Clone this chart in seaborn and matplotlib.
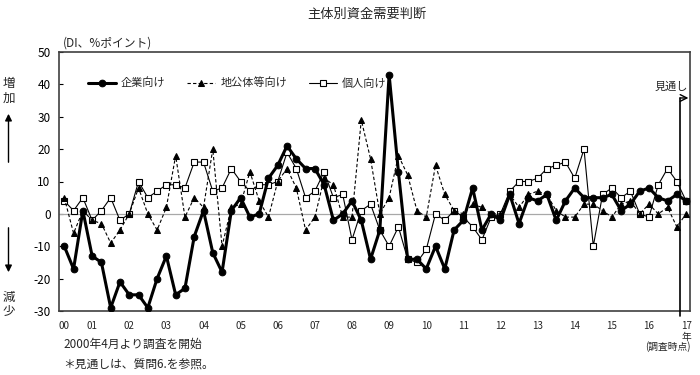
import matplotlib
matplotlib.use("Agg")
import matplotlib.pyplot as plt
import seaborn as sns
import pandas as pd

# ---- data (quarterly survey, 2000 Apr .. latest + outlook) ----
corp = [-10, -17, 1, -13, -15, -29, -21, -25, -25, -29,
        -20, -13, -25, -23, -7, 1, -12, -18, 1, 5,
        -1, 0, 11, 15, 21, 17, 14, 14, 9, -2,
        0, 4, -2, -14, -5, 43, 13, -14, -14, -17,
        -10, -17, -5, -2, 8, -5, 0, -2, 6, -3,
        5, 4, 6, -2, 4, 8, 5, 5, 5, 6,
        1, 3, 7, 8, 5, 4, 6, 4]
localgov = [5, -6, 1, -2, -3, -9, -5, 0, 8, 0,
            -5, 2, 18, -1, 5, 2, 20, -10, 2, 3,
            13, 4, -1, 10, 14, 8, -5, -1, 11, 9,
            -1, -1, 29, 17, 0, 5, 18, 12, 1, -1,
            15, 6, 1, 0, 3, 2, 0, 0, 6, 2,
            6, 7, 6, 1, -1, -1, 3, 3, 1, -1,
            3, 4, 0, 3, 0, 2, -4, 0]
personal = [4, 1, 5, -2, 1, 5, -2, 0, 10, 5,
            7, 9, 9, 8, 16, 16, 7, 8, 14, 10,
            7, 9, 9, 10, 19, 14, 5, 7, 13, 5,
            6, -8, 1, 3, -5, -10, -4, -14, -15, -11,
            0, -2, 1, -1, -4, -8, -1, 0, 7, 10,
            10, 11, 14, 15, 16, 11, 20, -10, 6, 8,
            5, 7, 0, -1, 9, 14, 10, 4]
series_names = ["企業向け", "地公体等向け", "個人向け"]
year_labels = ["00", "01", "02", "03", "04", "05", "06", "07", "08",
               "09", "10", "11", "12", "13", "14", "15", "16", "17"]
year_tick_idx = [0] + [3 + 4 * k for k in range(17)]
y_ticks = [-30, -20, -10, 0, 10, 20, 30, 40, 50]

sns.set_theme(style="white")
plt.rcParams["font.family"] = ["Noto Sans CJK JP", "DejaVu Sans"]
plt.rcParams["axes.unicode_minus"] = False

idx = list(range(len(corp)))
df = pd.DataFrame({"idx": idx, "corp": corp, "local": localgov, "pers": personal})

fig = plt.figure(figsize=(7, 3.75), dpi=100)
ax = fig.add_axes([59 / 700, 1 - 311 / 375, 631 / 700, 259 / 375])

ax.axhline(0, color="#a8a8a8", lw=0.9, zorder=1)

sns.lineplot(data=df, x="idx", y="pers", ax=ax, color="black", lw=0.8,
             marker="s", markersize=5, markerfacecolor="white",
             markeredgecolor="black", markeredgewidth=0.8,
             label=series_names[2], zorder=3)
sns.lineplot(data=df, x="idx", y="local", ax=ax, color="black", lw=0.8,
             marker="^", markersize=4.5, markerfacecolor="black",
             markeredgecolor="black", label=series_names[1], zorder=4)
sns.lineplot(data=df, x="idx", y="corp", ax=ax, color="black", lw=2.2,
             marker="o", markersize=4.8, markerfacecolor="black",
             markeredgecolor="black", label=series_names[0], zorder=5)

lines = ax.get_lines()
line_pers, line_local, line_corp = lines[1], lines[2], lines[3]
line_local.set_dashes((3, 2))

ax.set_xlim(-0.57, 67.42)
ax.set_ylim(-30, 50)
ax.set_xlabel("")
ax.set_ylabel("")
ax.set_yticks(y_ticks)
ax.set_yticklabels([str(v) for v in y_ticks])
ax.set_xticks(year_tick_idx)
ax.set_xticklabels(year_labels)
ax.tick_params(axis="y", direction="in", length=3, width=0.8, pad=6,
               labelsize=8.5, colors="black", left=True)
ax.tick_params(axis="x", length=0, pad=7, labelsize=7)
for s in ax.spines.values():
    s.set_color("#404040")
    s.set_linewidth(1.2)

leg = ax.legend(handles=[line_corp, line_local, line_pers],
                labels=series_names, loc="center left",
                bbox_to_anchor=(0.03, 0.88), ncol=3, frameon=False,
                handlelength=2.5, handletextpad=0.45, columnspacing=2.0,
                fontsize=8)

# outlook marker
vx = 66.35
ax.plot([vx, vx], [35.8, -31.5], color="black", lw=1.2, clip_on=False, zorder=6)
ax.annotate("", xy=(67.25, 35.8), xytext=(vx, 35.8),
            arrowprops=dict(arrowstyle="->", color="black", lw=1.0,
                            shrinkA=0, shrinkB=0))
fig.text(688 / 700, 1 - 87 / 375, "見通し", ha="right", va="center", fontsize=8)

# texts
fig.text(367 / 700, 1 - 14 / 375, "主体別資金需要判断", ha="center", va="center",
         fontsize=9.5)
fig.text(63 / 700, 1 - 43 / 375, "(DI、%ポイント)", ha="left", va="center",
         fontsize=8.5)
fig.text(686 / 700, 1 - 337 / 375, "年", ha="center", va="center", fontsize=7)
fig.text(668 / 700, 1 - 347 / 375, "(調査時点)", ha="center", va="center",
         fontsize=7)
fig.text(63 / 700, 1 - 344 / 375, "2000年4月より調査を開始", ha="left",
         va="center", fontsize=8.5)
fig.text(63 / 700, 1 - 365 / 375, "＊見通しは、質問6.を参照。", ha="left",
         va="center", fontsize=8.5)

# left side indicators
ax_x = 8.5 / 700
fig.text(ax_x, 1 - 83 / 375, "増", ha="center", va="center", fontsize=9)
fig.text(ax_x, 1 - 98 / 375, "加", ha="center", va="center", fontsize=9)
fig.text(ax_x, 1 - 297 / 375, "減", ha="center", va="center", fontsize=9)
fig.text(ax_x, 1 - 311 / 375, "少", ha="center", va="center", fontsize=9)
fig.add_artist(matplotlib.patches.FancyArrowPatch(
    (ax_x, 1 - 165 / 375), (ax_x, 1 - 111 / 375), transform=fig.transFigure,
    arrowstyle="-|>,head_length=4,head_width=2", color="black", lw=1.0))
fig.add_artist(matplotlib.patches.FancyArrowPatch(
    (ax_x, 1 - 225 / 375), (ax_x, 1 - 275 / 375), transform=fig.transFigure,
    arrowstyle="-|>,head_length=4,head_width=2", color="black", lw=1.0))

fig.savefig("out.png", dpi=100)
